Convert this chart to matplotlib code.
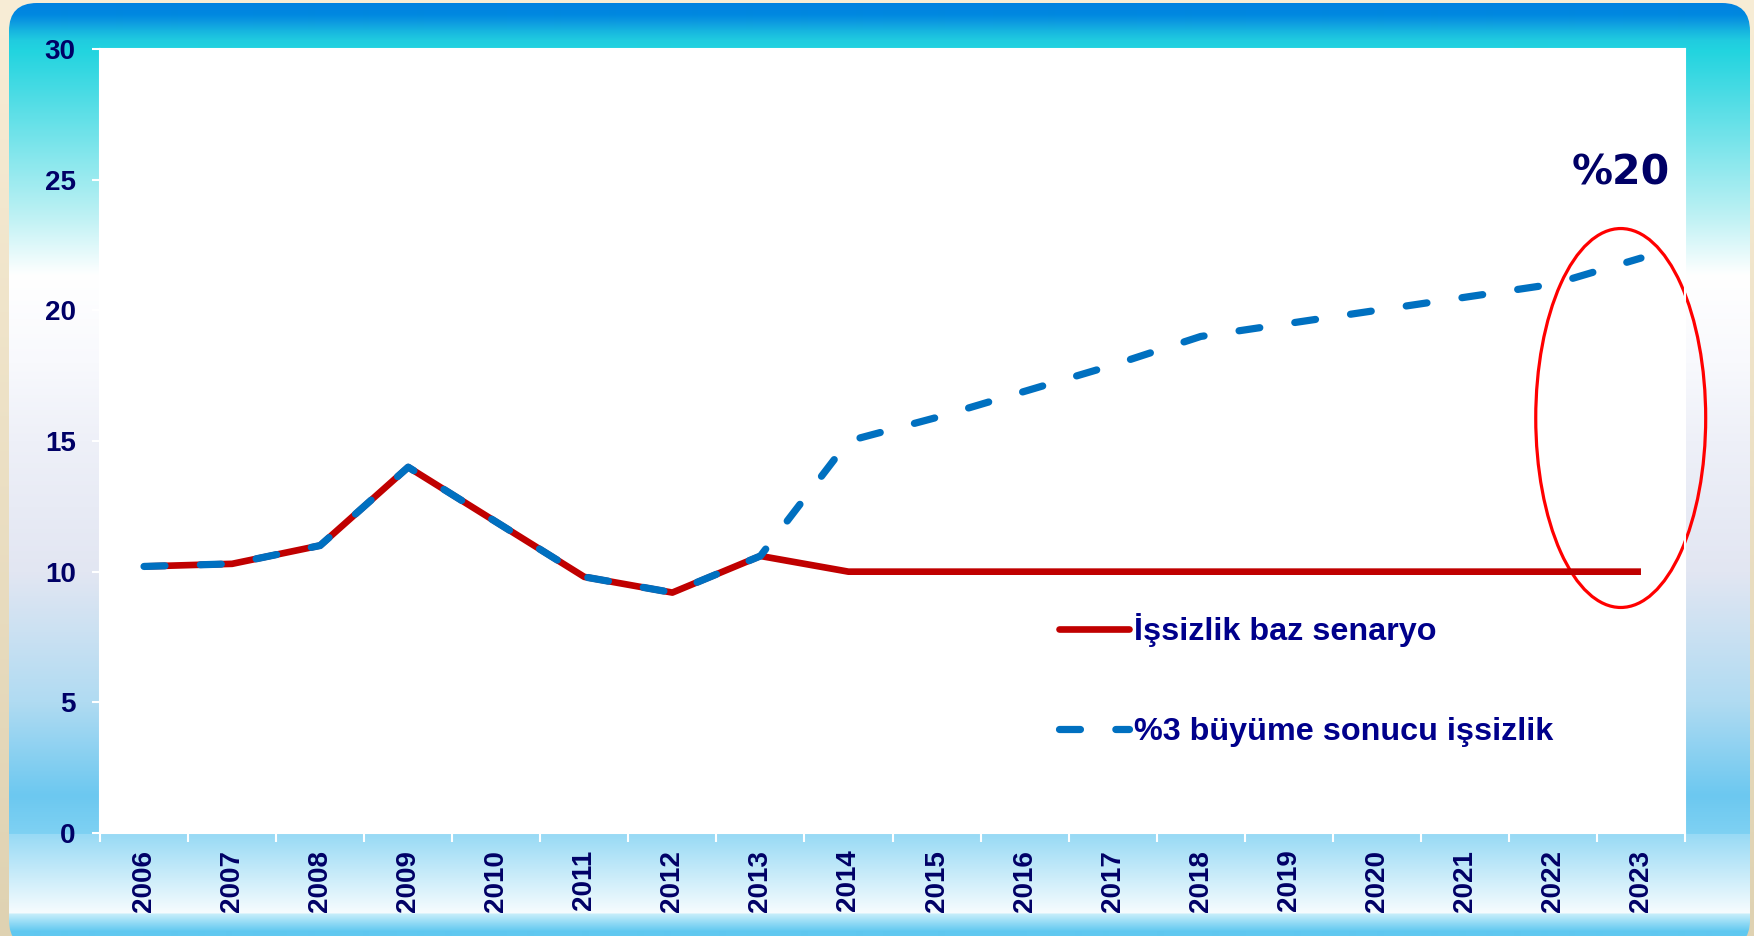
import numpy as np
import matplotlib
matplotlib.use("Agg")
import matplotlib.pyplot as plt
from matplotlib.patches import FancyBboxPatch, Ellipse
from matplotlib.lines import Line2D
from matplotlib.colors import to_rgb

# data
years = [str(y) for y in range(2006, 2024)]
baz_senaryo = [10.2, 10.3, 11.0, 14.0, 11.9, 9.8, 9.2, 10.6, 10.0,
               10.0, 10.0, 10.0, 10.0, 10.0, 10.0, 10.0, 10.0, 10.0]
buyume_3 = [10.2, 10.3, 11.0, 14.0, 11.9, 9.8, 9.2, 10.6, 15.0,
            15.9, 16.9, 17.9, 19.0, 19.5, 20.0, 20.5, 21.0, 22.0]
yticks = [0, 5, 10, 15, 20, 25, 30]
label_baz = "İşsizlik baz senaryo"
label_buyume = "%3 büyüme sonucu işsizlik"
note = "%20"

W, H = 1754, 936
NAVY = "#000066"
DASH = (0, (2.9, 4.9))


def gradient(stops, n):
    ys = [s[0] for s in stops]
    cols = np.array([to_rgb(s[1]) for s in stops])
    rows = np.arange(n)
    img = np.stack([np.interp(rows, ys, cols[:, c]) for c in range(3)], axis=1)
    return img[:, None, :]


fig = plt.figure(figsize=(W / 100, H / 100), dpi=100)

# background: beige + rounded blue panel
bg = fig.add_axes([0, 0, 1, 1])
bg.set_xlim(0, W)
bg.set_ylim(H, 0)
bg.axis("off")
beige = gradient([(0, "#F8EDD6"), (H, "#DFD2B2")], H)
bg.imshow(beige, extent=(0, W, H, 0), aspect="auto", interpolation="bilinear")

panel_stops = [
    (0, "#0080E0"), (14, "#0088E0"), (22, "#0D9BE0"), (30, "#16B4E0"),
    (40, "#20CCDF"), (50, "#22D4DF"), (215, "#BDF1F4"), (275, "#FFFFFF"),
    (363, "#F8F9FD"), (441, "#EEF0F8"), (572, "#E2E6F2"), (702, "#B0DBF2"),
    (795, "#6CC8F0"), (833, "#7ED1F3"), (834, "#98DAF5"), (912, "#F6FCFE"),
    (914, "#C4EDFA"), (923, "#8ED9F5"), (931, "#60C8F0"), (H, "#60C8F0"),
]
panel = gradient(panel_stops, H)
im = bg.imshow(panel, extent=(0, W, H, 0), aspect="auto", interpolation="bilinear")
clip = FancyBboxPatch((9, 3), 1741, 945, boxstyle="round,pad=0,rounding_size=28",
                      transform=bg.transData, facecolor="none", edgecolor="none")
bg.add_patch(clip)
im.set_clip_path(clip)

# main chart
ax = fig.add_axes([100 / W, 103 / H, 1585 / W, 784 / H])
ax.set_facecolor("white")
x = np.arange(len(years))

ax.plot(x, baz_senaryo, color="#C00000", lw=4.8, solid_joinstyle="round",
        solid_capstyle="butt", zorder=3)
ax.plot(x, buyume_3, color="#0070C0", lw=5.2, linestyle=DASH,
        dash_capstyle="round", dash_joinstyle="round", zorder=4)

ax.add_patch(Ellipse((16.77, 15.88), 1.93, 14.5, fill=False, clip_on=False,
                     edgecolor="#FF0000", lw=2.3, zorder=2))
ax.text(16.77, 25.25, note, ha="center", va="center", fontsize=29.5,
        fontweight="bold", color=NAVY, family="DejaVu Sans")

ax.set_xlim(-0.5, len(years) - 0.5)
ax.set_ylim(0, 30)
ax.set_yticks(yticks)
ax.set_xticks(x)
ax.set_xticklabels(years, rotation=90)
ax.set_xticks(np.arange(-0.5, len(years)), minor=True)

for s in ax.spines.values():
    s.set_color("white")
    s.set_linewidth(1.5)

ax.tick_params(axis="y", direction="out", length=6, width=1.5, color="white",
               pad=11.5, labelsize=20, labelcolor=NAVY)
ax.tick_params(axis="x", which="major", length=0, pad=12, labelsize=20,
               labelcolor=NAVY)
ax.tick_params(axis="x", which="minor", direction="out", length=6.5,
               width=1.5, color="white")
for lab in ax.get_xticklabels() + ax.get_yticklabels():
    lab.set_fontweight("bold")
    lab.set_family("Liberation Sans")

handles = [
    Line2D([], [], color="#C00000", lw=4.8, solid_capstyle="round"),
    Line2D([], [], color="#0070C0", lw=5.2, linestyle=DASH,
           dash_capstyle="round"),
]
leg = ax.legend(handles, [label_baz, label_buyume], loc="upper left",
                bbox_to_anchor=(0.605, 0.280), frameon=False, borderpad=0,
                borderaxespad=0, handlelength=2.17, handletextpad=0.14,
                labelspacing=2.15,
                prop={"family": "Liberation Sans", "weight": "bold", "size": 23.3})
for t in leg.get_texts():
    t.set_color("#00008B")

fig.savefig("out.png", dpi=100)
